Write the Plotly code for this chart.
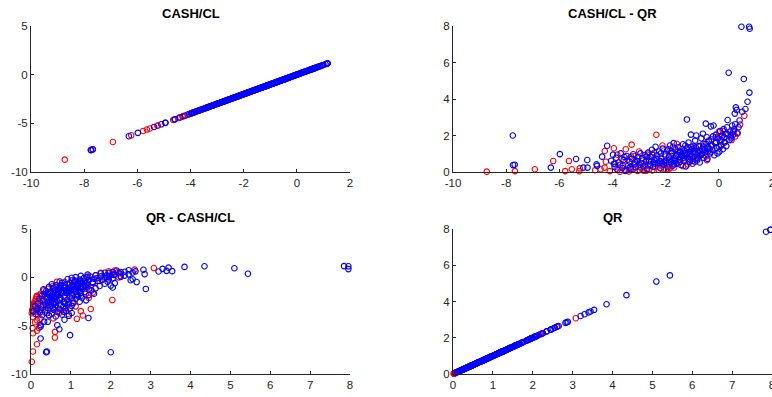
import plotly.graph_objects as go

# ---- data: (CASH/CL, QR) per group ----
blue_cash_cl = [
    -7.75, -7.74, -7.68, -6.32, -5.98, -5.37, -5.10, -4.94, -4.95, -4.60,
    -4.58, -4.39, -4.20, -4.05, -3.98, -3.92, -3.86, -3.81, -3.77, -3.69,
    -3.63, -3.58, -3.52, -3.47, -3.41, -3.36, -3.31, -3.27, -3.22, -3.17,
    -3.12, -3.08, -3.03, -2.98, -2.93, -2.88, -2.84, -2.79, -2.74, -2.70,
    -2.66, -2.61, -2.57, -2.52, -2.47, -2.43, -2.38, -2.33, -2.29, -2.24,
    -2.20, -2.16, -2.11, -2.07, -2.03, -1.99, -1.95, -1.92, -1.88, -1.84,
    -1.80, -1.77, -1.73, -1.70, -1.66, -1.63, -1.59, -1.56, -1.52, -1.49,
    -1.45, -1.42, -1.38, -1.35, -1.31, -1.28, -1.24, -1.21, -1.20, -1.17,
    -1.14, -1.10, -1.07, -1.05, -1.03, -0.99, -0.96, -0.93, -0.89, -0.85,
    -0.82, -0.79, -0.75, -0.72, -0.69, -0.66, -0.62, -0.60, -0.57, -0.54,
    -0.51, -0.49, -0.46, -0.43, -0.40, -0.37, -0.33, -0.30, -0.27, -0.24,
    -0.20, -0.17, -0.14, -0.11, -0.08, -0.05, -0.02, 0.02, 0.05, 0.08,
    0.12, 0.15, 0.18, 0.22, 0.25, 0.28, 0.31, 0.33, 0.37, 0.40,
    0.43, 0.47, 0.50, 0.54, 0.58, 0.60, 0.62, 0.64, 0.67, 0.70,
    0.74, 0.78, 0.85, 0.88, 0.94, 1.00, 1.08, 1.14, 1.15, 1.16,
    -1.98, -1.74, -1.61, -1.47, -1.33, -1.19, -1.12, -0.98, -0.91, -0.77,
    -0.64, -0.56, -0.41, -0.29, -2.45, -2.21, -2.58, -2.87, -3.33, -3.71,
    -3.95, -3.55, -3.15, -2.95, -2.72, -2.50, -2.35, -2.18, -2.05, -1.90,
    -1.78, -1.65, -1.54, -1.40, -1.26, -1.16, -1.01, -0.87, -0.71, -0.59,
    -0.47, -0.35, -0.22, -0.10, 0.00, 0.10, 0.20, 0.30, 0.45, 0.55,
    -2.62, -2.40, -2.14, -1.86, -1.69, -1.44, -1.30, -1.08, -0.94, -0.81,
]
blue_qr = [
    2.00, 0.38, 0.40, 0.24, 0.98, 0.71, 0.24, 0.24, 0.66, 0.42,
    0.33, 0.84, 1.44, 0.62, 0.95, 0.28, 0.78, 0.12, 0.52, 1.02,
    0.22, 0.66, 0.06, 0.88, 0.36, 0.57, 0.16, 0.72, 0.97, 0.42,
    0.26, 0.61, 0.81, 0.11, 0.49, 0.76, 0.31, 0.93, 0.58, 0.17,
    1.06, 0.44, 0.82, 1.22, 0.29, 0.66, 1.38, 0.91, 0.51, 1.12,
    0.21, 0.74, 1.28, 0.39, 0.97, 0.62, 1.18, 0.27, 0.84, 1.45,
    0.53, 1.02, 0.34, 1.58, 0.78, 1.24, 0.46, 0.95, 1.35, 0.68,
    1.12, 0.38, 0.87, 1.52, 0.61, 1.05, 0.31, 1.28, 2.88, 0.74,
    1.62, 0.55, 0.98, 2.05, 1.38, 0.45, 0.82, 1.18, 1.72, 2.00,
    0.63, 1.05, 1.42, 0.52, 0.91, 1.85, 1.25, 2.10, 0.78, 1.55,
    1.08, 2.65, 1.92, 0.72, 1.35, 1.68, 1.02, 2.50, 1.78, 1.22,
    2.55, 0.92, 1.58, 2.05, 1.32, 1.02, 1.85, 1.12, 2.25, 1.48,
    1.95, 1.25, 2.35, 1.62, 2.08, 1.42, 2.45, 2.85, 5.44, 1.75,
    2.22, 1.85, 2.55, 2.05, 2.35, 3.20, 2.62, 3.54, 3.40, 2.15,
    2.45, 2.82, 7.96, 3.30, 5.10, 3.45, 3.85, 7.96, 4.35, 7.85,
    0.48, 0.66, 0.88, 0.55, 0.79, 0.95, 0.70, 0.62, 1.02, 0.85,
    0.98, 1.18, 1.12, 1.45, 0.52, 0.60, 0.35, 0.45, 0.25, 0.40,
    0.45, 0.82, 0.55, 1.02, 0.85, 0.95, 0.72, 1.02, 0.58, 1.25,
    1.15, 0.62, 1.12, 0.95, 1.45, 1.10, 1.25, 1.35, 1.18, 1.40,
    1.55, 1.25, 1.95, 1.65, 1.40, 1.75, 1.90, 2.10, 1.95, 2.25,
    0.62, 0.45, 0.52, 0.68, 0.42, 0.82, 1.18, 0.85, 1.30, 0.75,
]
red_cash_cl = [
    -8.73, -7.67, -6.92, -6.23, -5.64, -5.78, -5.53, -5.23, -5.25, -4.65,
    -4.45, -4.25, -4.29, -4.30, -3.95, -3.50, -3.28, -2.35, 0.96, 0.80,
    -4.10, -3.90, -3.82, -3.72, -3.62, -3.55, -3.44, -3.38, -3.30, -3.22,
    -3.15, -3.06, -3.00, -2.95, -2.87, -2.80, -2.76, -2.68, -2.62, -2.56,
    -2.50, -2.44, -2.40, -2.31, -2.26, -2.18, -2.12, -2.06, -2.00, -1.94,
    -1.90, -1.85, -1.78, -1.72, -1.68, -1.62, -1.58, -1.52, -1.46, -1.40,
    -1.35, -1.28, -1.22, -1.15, -1.10, -1.02, -0.95, -0.88, -0.80, -0.74,
    -0.68, -0.60, -0.52, -0.45, -0.38, -0.25, -0.12, 0.00, 0.02, 0.08,
    0.20, 0.35, 0.48, 0.55, 0.62, 0.70, 0.15, -1.98, -2.85, -3.48,
    -3.85, -3.65, -3.40, -3.18, -2.98, -2.72, -2.52, -2.28, -2.08, -1.82,
    -1.65, -1.48, -1.32, -1.18, -1.05, -0.90, -0.76, -0.62, -0.48, -0.30,
]
red_qr = [
    0.02, 0.05, 0.15, 0.60, 0.60, 0.05, 0.15, 0.20, 0.04, 0.10,
    0.15, 0.56, 1.15, 0.24, 1.30, 1.25, 1.50, 2.04, 3.08, 2.60,
    0.05, 0.45, 0.95, 0.02, 0.35, 0.12, 0.68, 0.03, 0.85, 0.18,
    0.48, 0.06, 1.12, 0.25, 0.62, 0.07, 0.38, 0.95, 0.12, 0.55,
    0.09, 1.05, 0.28, 0.72, 0.12, 0.42, 1.45, 0.15, 0.85, 0.35,
    0.15, 1.15, 0.62, 1.38, 0.25, 0.92, 1.55, 0.48, 0.78, 1.25,
    0.32, 0.68, 1.05, 1.35, 0.58, 0.85, 1.42, 0.72, 1.15, 1.38,
    0.92, 1.55, 1.22, 0.65, 1.72, 1.45, 1.90, 2.20, 1.95, 1.42,
    1.62, 2.05, 1.75, 2.18, 1.95, 2.10, 2.25, 0.14, 0.09, 0.07,
    0.18, 0.72, 0.22, 0.88, 0.40, 0.07, 0.82, 0.30, 0.55, 0.22,
    0.68, 1.08, 0.95, 0.42, 1.18, 0.55, 0.95, 1.18, 0.85, 1.10,
]

titles = ["CASH/CL", "CASH/CL - QR", "QR - CASH/CL", "QR"]
cash_ticks = [-10, -8, -6, -4, -2, 0, 2]
cash_y_ticks = [-10, -5, 0, 5]
qr_ticks = [0, 2, 4, 6, 8]
qr_x_ticks = [0, 1, 2, 3, 4, 5, 6, 7, 8]

groups = [
    (red_cash_cl, red_qr, "#ff0000"),
    (blue_cash_cl, blue_qr, "#0000ff"),
]

# panel: (axis suffix, x var, y var)
panels = [
    ("", "c", "c"),
    ("2", "c", "q"),
    ("3", "q", "c"),
    ("4", "q", "q"),
]

fig = go.Figure()
for suffix, xv, yv in panels:
    for cc, qq, col in groups:
        data = {"c": cc, "q": qq}
        fig.add_trace(go.Scatter(
            x=data[xv], y=data[yv], mode="markers",
            marker=dict(symbol="circle-open", size=5.5, color=col,
                        line=dict(width=1.1, color=col)),
            xaxis="x" + suffix, yaxis="y" + suffix,
            showlegend=False, hoverinfo="skip", cliponaxis=False,
        ))

W, H = 772, 397
xdom_left = [31 / W, 350 / W]
xdom_right = [453 / W, 1.0]
ydom_top = [1 - 172 / H, 1 - 26 / H]
ydom_bot = [1 - 374 / H, 1 - 229 / H]

axcol = "#262626"
tickfont = dict(family="Liberation Sans, Arial, sans-serif", size=11.5, color=axcol)


def ax(domain, rng, ticks, anchor):
    return dict(domain=domain, range=rng, tickvals=ticks, ticktext=[str(t) for t in ticks],
                showgrid=False, zeroline=False, showline=True, linecolor=axcol,
                linewidth=1, ticks="inside", ticklen=3, tickcolor=axcol,
                tickfont=tickfont, anchor=anchor, fixedrange=True, mirror=False,
                automargin=False, ticklabeloverflow="allow")


fig.update_layout(
    width=W, height=H,
    margin=dict(l=0, r=0, t=0, b=0),
    paper_bgcolor="white", plot_bgcolor="white",
    xaxis=ax(xdom_left, [-10, 2], cash_ticks, "y"),
    yaxis=ax(ydom_top, [-10, 5], cash_y_ticks, "x"),
    xaxis2=ax(xdom_right, [-10, 2], cash_ticks, "y2"),
    yaxis2=ax(ydom_top, [0, 8], qr_ticks, "x2"),
    xaxis3=ax(xdom_left, [0, 8], qr_x_ticks, "y3"),
    yaxis3=ax(ydom_bot, [-10, 5], cash_y_ticks, "x3"),
    xaxis4=ax(xdom_right, [0, 8], qr_x_ticks, "y4"),
    yaxis4=ax(ydom_bot, [0, 8], qr_ticks, "x4"),
)

title_pos = [
    ((xdom_left[0] + xdom_left[1]) / 2, 1 - 14 / H),
    ((xdom_right[0] + xdom_right[1]) / 2, 1 - 14 / H),
    ((xdom_left[0] + xdom_left[1]) / 2, 1 - 217 / H),
    ((xdom_right[0] + xdom_right[1]) / 2, 1 - 217 / H),
]
for t, (x, y) in zip(titles, title_pos):
    fig.add_annotation(text="<b>" + t + "</b>", x=x, y=y, xref="paper", yref="paper",
                       showarrow=False, xanchor="center", yanchor="middle",
                       font=dict(family="Liberation Sans, Arial, sans-serif", size=13, color="#000000"))

fig.write_html(
    "out.html",
    config={"displayModeBar": False, "staticPlot": True},
    post_script="document.body.style.margin='0';document.body.style.padding='0';"
                "document.body.style.overflow='hidden';",
)
